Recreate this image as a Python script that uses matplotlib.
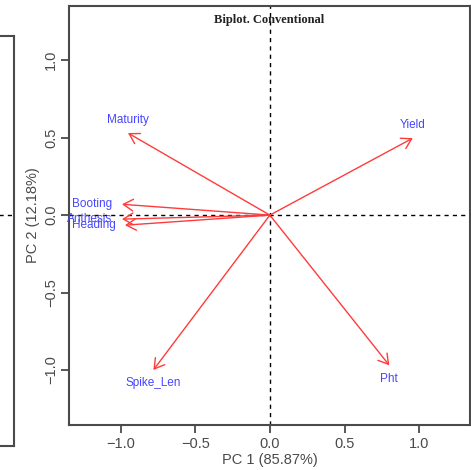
import numpy as np
import matplotlib
matplotlib.use('Agg')
import matplotlib.pyplot as plt

# loadings
variables = ['Yield', 'Maturity', 'Booting', 'Anthesis', 'Heading', 'Spike_Len', 'Pht']
pc1 = [0.957, -0.95, -0.99, -0.99, -0.97, -0.78, 0.80]
pc2 = [0.497, 0.53, 0.07, -0.026, -0.065, -1.0, -0.97]
ticks = [-1.0, -0.5, 0.0, 0.5, 1.0]
xlab = 'PC 1 (85.87%)'
ylab = 'PC 2 (12.18%)'
title = 'Biplot. Conventional'

# where each label sits relative to its arrow tip
label_side = {'Yield': 'up', 'Maturity': 'up', 'Booting': 'left', 'Anthesis': 'left',
              'Heading': 'left', 'Spike_Len': 'down', 'Pht': 'down'}

plt.rcParams['font.family'] = ['Liberation Sans', 'DejaVu Sans']
grey = '#4a4a4a'

fig = plt.figure(figsize=(4.71, 4.70), dpi=100)

# neighbouring panel, only its right edge shows
axl = fig.add_axes([-0.2, 1 - 446 / 470, 0.2 + 14 / 471, 410 / 470])
axl.set_xlim(0, 1)
axl.set_ylim(0, 1)
for s in axl.spines.values():
    s.set_color(grey)
    s.set_linewidth(1.5)
axl.set_xticks([])
axl.set_yticks([])
axl.axhline((446 - 215) / 410, color='black', ls=(0, (3, 3)), lw=1)

ax = fig.add_axes([69 / 471, 1 - 425 / 470, 401 / 471, 419 / 470])
ax.set_xlim(-1.345, 1.34)
ax.set_ylim(-1.355, 1.35)
ax.axhline(0, color='black', ls=(0, (3, 3)), lw=1)
ax.axvline(0, color='black', ls=(0, (3, 3)), lw=1)

for name, x, y in zip(variables, pc1, pc2):
    ax.annotate('', xy=(x, y), xytext=(0, 0),
                arrowprops=dict(arrowstyle='->,head_length=0.5,head_width=0.3',
                                color='#ff3b3b', lw=1, shrinkA=0, shrinkB=0,
                                mutation_scale=14))
    side = label_side[name]
    if side == 'up':
        off, ha = (0, 9.5), 'center'
    elif side == 'down':
        off, ha = (0, -9.5), 'center'
    else:
        off, ha = (-7, 0), 'right'
    ax.annotate(name, xy=(x, y), xytext=off, textcoords='offset points',
                ha=ha, va='center', color='#4646ff', fontsize=8.5)

ax.set_title(title, fontsize=9, fontweight='bold', family='Liberation Serif',
             y=0.94, color='#222222')

ax.set_xticks(ticks)
ax.set_yticks(ticks)
ax.set_xticklabels(['\u22121.0', '\u22120.5', '0.0', '0.5', '1.0'])
ax.set_yticklabels(['\u22121.0', '\u22120.5', '0.0', '0.5', '1.0'], rotation=90, va='center')
ax.tick_params(length=6, width=1.3, color=grey, labelcolor=grey, labelsize=10.5, pad=2)
ax.tick_params(axis='x', pad=3)
ax.set_xlabel(xlab, fontsize=10.5, color=grey, labelpad=1)
ax.set_ylabel(ylab, fontsize=10.5, color=grey, labelpad=3)
for s in ax.spines.values():
    s.set_color(grey)
    s.set_linewidth(1.5)

fig.savefig('out.png', dpi=100)
